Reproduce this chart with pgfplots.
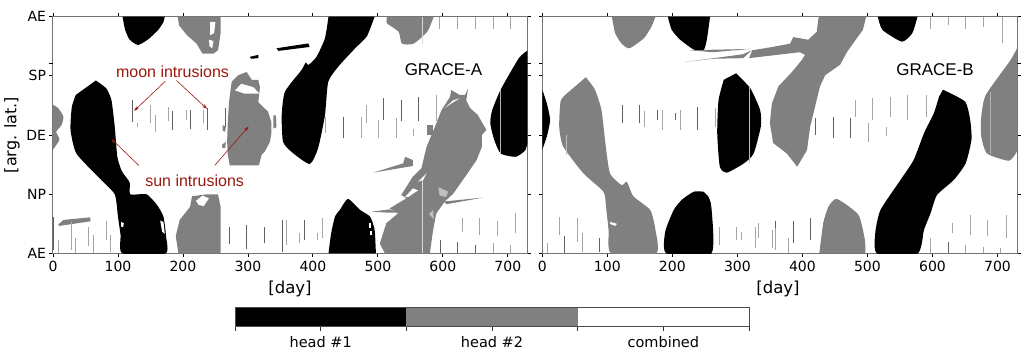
\documentclass[border=0pt]{standalone}
\usepackage{pgfplots}
\pgfplotsset{compat=1.18}
\usepackage{fontspec}
\setmainfont{DejaVu Sans}
\newfontfamily\arialf{Liberation Sans}
\usetikzlibrary{arrows.meta}
\definecolor{hd}{gray}{0.5}
\definecolor{ann}{rgb}{0.6,0.1,0.05}
\newcommand\poly[2]{\addplot[fill=#1,draw=none,forget plot] coordinates {#2} -- cycle;}
\newcommand\spoly[2]{\addplot[fill=#1,draw=none,forget plot,smooth,tension=0.35] coordinates {#2} -- cycle;}
\newcommand\dark[1]{\addplot[color=black!62,line width=0.75pt,forget plot,unbounded coords=jump] coordinates {#1};}
\newcommand\pale[1]{\addplot[color=black!35,line width=0.85pt,forget plot,unbounded coords=jump] coordinates {#1};}
\pgfplotsset{
  panel/.style={
    scale only axis, axis on top=false, height=236.8pt, anchor=south west,
    xmin=0,xmax=730,ymin=0,ymax=360,
    xtick={0,100,...,700}, ytick={0,90,180,270,360},
    extra y ticks={289}, extra y tick labels={},
    tick align=outside, major tick length=3.5pt,
    tick style={black,line width=0.8pt},
    xtick pos=both, ytick pos=both,
    xticklabel pos=bottom,
    axis line style={color=black!55,line width=1pt},
    tick label style={font=\fontsize{14}{16}\selectfont},
    /pgf/number format/assume math mode=true,
    /pgf/number format/1000 sep={},
    x tick label style={yshift=-1pt},
    clip=true,
  }
}
\begin{document}
\begin{tikzpicture}[x=1pt,y=1pt]
\path[use as bounding box] (0,0) rectangle (1021,358);
%% ---------------- GRACE-A
\begin{axis}[panel, at={(53pt,104.5pt)}, width=474.3pt,
  yticklabels={AE,NP,DE,SP,AE}]
\spoly{black}{(107,360)(111,340)(118,325)(131,317)(147,326)(162,340)(170,352)(172,360)}
\poly{hd}{(192,360)(194,347)(206,332)(221,319)(230,304)(247,304)(254,309)(258,335)(258,360)}
\poly{white}{(242,352)(250,352)(248,335)(242,332)}
\poly{white}{(240,325)(247,323)(245,312)(241,315)}
\spoly{black}{(66,263)(82,251)(90,233)(95,193)(99,147)(106,125)(118,108)(119,90)(144,90)(160,74)(170,56)(174,26)(173,0)(107,0)(104,28)(100,56)(95,90)(72,114)(36,152)(27,188)(29,223)(35,241)}
\poly{white}{(165,50)(170,48)(172,30)(168,33)}
\poly{white}{(105,48)(109,46)(108,40)(105,41)}
\poly{hd}{(189,26)(190,31)(195,51)(211,71)(214,87)(237,90)(254,90)(258,71)(258,0)(193,0)}
\poly{white}{(220,80)(230,88)(240,84)(232,72)(224,74)}
\poly{hd}{(298,276)(306,264)(316,264)(318.5,253)(316,230)(331,215.5)(336,200)(336,182)(334,170)(326,155)(321,150)(317,134)(272,134)(269,150)(268,170)(269,200)(271,231)(275,261)(285,271)}
\poly{white}{(280,248)(290,258)(308,253)(318,243)(295,243)}
\poly{hd}{(339,210)(343,210)(344,192)(339,190)}
\spoly{hd}{(0,226)(8,221)(16,208)(13,195)(5,185)(10,173)(0,158)}
\poly{hd}{(261,195)(266,193)(265,185)(261,187)}
\poly{hd}{(260,165)(266,170)(265,160)(261,160)}
\poly{hd}{(8,44)(16,51)(57,55)(58,49)(10,42)}
\poly{black}{(303,299)(316,302)(316,297)(305,296)}
\poly{black}{(344,312)(393,319.4)(395,314)(347,308)}
\spoly{black}{(424,360)(418.5,327)(405.6,299)(393,286.5)(389,290.5)(382.6,279)(357,246)(352,210)(354,170)(367,154.6)(395,136)(408,160)(418.5,210)(423.6,261)(439,284)(465,312)(483,330)(495,360)}
\spoly{black}{(424,0)(428,30)(434,56)(442,67)(454,83)(473,66)(488,56)(495,36)(497,0)}
\poly{white}{(486,46)(490,46)(490,38)(486,38)}
\poly{white}{(488,34)(491,34)(491,28)(488,28)}
\spoly{hd}{(514,360)(514,350)(532,337)(537,319)(555,319)(576,337)(586,360)}
\poly{hd}{(613,248.5)(626,241)(634,241)(639,251)(636,233)(642,221)(654,210.5)(660,200)(667,188)(660,180)(660,162)(652,142)(636,119)(616,91)(603,79)(590,61)(585,35.5)(580,0)(511,0)(503,15)(513,46)(531,61)(518,68.5)(544,84)(536,89)(554,117)(567,129.5)(575,162.3)(588,193)(598,218)(611,238)}
\poly{white}{(603,221)(616,233)(626,236)(613,228)}
\poly{white}{(562,109)(575,122)(570,112)}
\poly{white}{(542,86)(554,99)(562,96)(547,86)}
\poly{black!25}{(593,101)(608,94)(605,86)(595,88)}
\poly{black!25}{(579,60)(585,66)(586,52)}
\poly{hd}{(493,123)(539,137)(542,147)(554,142)(554,133)}
\poly{hd}{(601,79)(662,85)(606,75)}
\poly{hd}{(575,195)(585,195)(585,180)(575,180)}
\poly{hd}{(490,63.5)(518,67)(531,62)(518,62)}
\spoly{black}{(731,309)(717,297)(689,249)(676,218)(673,198)(679,173)(689,152)(712,147)(727,157)(731,173)}
\addplot[color=black!15,line width=0.7pt,forget plot] coordinates {(569,0)(569,112)};
\addplot[color=black!15,line width=0.7pt,forget plot] coordinates {(569,319)(569,360)};
\addplot[color=black!30,line width=0.7pt,forget plot] coordinates {(689,152)(689,249)};
\dark{(0,6)(0,56)(nan,nan)(184,188)(184,216)(nan,nan)(211,190)(211,218)(nan,nan)(238,188)(238,221)(nan,nan)(122,200)(122,233)(nan,nan)(266,193)(266,221)(nan,nan)(298,7)(298,44)(nan,nan)(271,15)(271,41)(nan,nan)(353,3)(353,51)(nan,nan)(326,16)(326,41)(nan,nan)(387,21)(387,51)(nan,nan)(447,175)(447,208)(nan,nan)(509,203)(509,236)(nan,nan)(536,201)(536,233)(nan,nan)(563,201)(563,238)(nan,nan)(623,0)(623,18)(nan,nan)(650,0)(650,13)(nan,nan)(596,0)(596,21)}
\pale{(8,0)(8,21)(nan,nan)(28,6)(28,49)(nan,nan)(35,0)(35,23)(nan,nan)(54,11)(54,41)(nan,nan)(62,0)(62,28)(nan,nan)(82,21)(82,49)(nan,nan)(89,3)(89,28)(nan,nan)(130,193)(130,198)(nan,nan)(150,198)(150,226)(nan,nan)(157,185)(157,211)(nan,nan)(177,201)(177,223)(nan,nan)(205,203)(205,218)(nan,nan)(232,198)(232,218)(nan,nan)(360,13)(360,51)(nan,nan)(380,16)(380,31)(nan,nan)(407,21)(407,31)(nan,nan)(414,23)(414,54)(nan,nan)(420,183)(420,208)(nan,nan)(475,175)(475,208)(nan,nan)(482,198)(482,226)(nan,nan)(501,175)(501,203)(nan,nan)(529,175)(529,206)(nan,nan)(555,178)(555,190)(nan,nan)(590,201)(590,241)(nan,nan)(595,342)(595,360)(nan,nan)(623,342)(623,360)(nan,nan)(650,342)(650,360)(nan,nan)(678,342)(678,360)(nan,nan)(704,342)(704,360)(nan,nan)(630,33)(630,54)(nan,nan)(657,28)(657,54)(nan,nan)(684,26)(684,49)(nan,nan)(712,31)(712,61)(nan,nan)(678,0)(678,16)(nan,nan)(704,0)(704,13)}
\node[font=\arialf\fontsize{17}{19}\selectfont,anchor=center] at (axis cs:601,279) {GRACE-A};
\node[font=\arialf\fontsize{16}{18}\selectfont,text=ann,anchor=center] at (axis cs:184,276) {moon intrusions};
\node[font=\arialf\fontsize{16}{18}\selectfont,text=ann,anchor=center] at (axis cs:218,111) {sun intrusions};
\draw[ann,line width=0.6pt,-{Stealth[length=5pt,width=3.5pt]}] (axis cs:173,262)--(axis cs:125,217);
\draw[ann,line width=0.6pt,-{Stealth[length=5pt,width=3.5pt]}] (axis cs:190,263)--(axis cs:237,220);
\draw[ann,line width=0.6pt,-{Stealth[length=5pt,width=3.5pt]}] (axis cs:132,134)--(axis cs:90,174);
\draw[ann,line width=0.6pt,-{Stealth[length=5pt,width=3.5pt]}] (axis cs:249,134)--(axis cs:301,193);
\end{axis}
%% ---------------- GRACE-B
\begin{axis}[panel, at={(542.3pt,104.5pt)}, width=474.7pt, yticklabels={}]
\spoly{hd}{(107,360)(112,335)(122,319)(134,312)(156,327)(168,345)(174,360)}
\spoly{black}{(193,360)(199,340)(212,325)(233,310)(248,309)(253,325)(258,360)}
\spoly{black}{(0,249)(7,228)(12,203)(7,178)(0,158)}
\spoly{hd}{(67,268)(81,249)(91,218)(97,168)(104,122)(122,104)(130,109)(140,87)(166,66)(174,36)(175,0)(106,0)(102,35)(98,71)(94,94)(63,122)(32,163)(26,193)(28,231)(35,241)}
\spoly{black}{(248,94)(233,94)(215,82)(202,66)(189,33)(191,0)(260,0)(260,71)(255,87)}
\spoly{black}{(298,274)(320,251)(335,218)(336,193)(325,152)(310,137)(284,123)(273,132)(269,183)(271,233)(279,264)}
\poly{hd}{(425,360)(422,337)(409,325)(386,329)(381,319)(348,313)(323,309)(318,297)(396,306)(404,302)(399,294)(384,276)(363,254)(353,228)(350,198)(355,168)(376,152)(392,132)(407,157)(412,193)(427,254)(435,271)(458,287)(469,307)(493,340)(498,360)}
\poly{hd}{(219,291)(309,303)(322,309)(309,297)(262,296)}
\poly{hd}{(227,309)(320,311)(262,306)}
\spoly{black}{(516,360)(523,340)(553,322)(569,335)(577,360)}
\spoly{black}{(616,249)(650,231)(658,203)(660,173)(651,137)(633,112)(607,89)(597,61)(587,36)(577,0)(515,0)(512,31)(520,66)(551,112)(571,142)(587,183)(602,213)(610,238)}
\spoly{hd}{(426,0)(432,46)(440,71)(453,83)(486,59)(496,21)(497,0)}
\spoly{hd}{(731,314)(720,294)(682,241)(675,208)(675,178)(684,152)(718,141)(731,157)}
\poly{white}{(105,48)(115,45)(112,42)(104,45)}
\addplot[color=black!25,line width=0.7pt,forget plot] coordinates {(319,137)(319,255)};
\addplot[color=black!30,line width=0.7pt,forget plot] coordinates {(689,152)(689,245)};
\addplot[color=black!25,line width=0.7pt,forget plot] coordinates {(37,150)(37,180)};
\dark{(123,198)(123,226)(nan,nan)(150,198)(150,226)(nan,nan)(177,203)(177,218)(nan,nan)(205,203)(205,213)(nan,nan)(239,188)(239,223)(nan,nan)(447,175)(447,208)(nan,nan)(474,175)(474,206)(nan,nan)(420,180)(420,206)(nan,nan)(34,0)(34,26)(nan,nan)(88,3)(88,23)(nan,nan)(386,16)(386,49)(nan,nan)(359,21)(359,49)(nan,nan)(413,21)(413,54)(nan,nan)(624,0)(624,18)}
\pale{(157,193)(157,216)(nan,nan)(184,188)(184,218)(nan,nan)(212,188)(212,218)(nan,nan)(266,193)(266,221)(nan,nan)(8,0)(8,16)(nan,nan)(27,28)(27,56)(nan,nan)(54,18)(54,54)(nan,nan)(61,3)(61,31)(nan,nan)(272,13)(272,41)(nan,nan)(299,21)(299,41)(nan,nan)(306,21)(306,33)(nan,nan)(327,8)(327,41)(nan,nan)(333,23)(333,46)(nan,nan)(354,8)(354,36)(nan,nan)(379,0)(379,23)(nan,nan)(358,6)(358,38)(nan,nan)(481,208)(481,233)(nan,nan)(501,170)(501,198)(nan,nan)(508,203)(508,236)(nan,nan)(529,178)(529,193)(nan,nan)(536,208)(536,238)(nan,nan)(562,203)(562,241)(nan,nan)(590,208)(590,241)(nan,nan)(597,342)(597,360)(nan,nan)(624,348)(624,360)(nan,nan)(651,342)(651,360)(nan,nan)(678,345)(678,360)(nan,nan)(707,320)(707,360)(nan,nan)(597,0)(597,23)(nan,nan)(630,31)(630,46)(nan,nan)(658,28)(658,59)(nan,nan)(684,26)(684,51)(nan,nan)(713,23)(713,59)(nan,nan)(651,0)(651,13)(nan,nan)(678,0)(678,10)(nan,nan)(704,0)(704,8)}
\node[font=\arialf\fontsize{17}{19}\selectfont,anchor=center] at (axis cs:604,279) {GRACE-B};
\end{axis}
%% ---------------- colour bar
\begin{axis}[scale only axis, at={(235pt,32pt)}, anchor=south west, width=514pt, height=19pt,
  xmin=0,xmax=3,ymin=0,ymax=1, ytick=\empty,
  xtick={0,0.5,1,1.5,2,2.5,3}, xticklabels={,head \#1,,head \#2,,combined,},
  tick align=outside, major tick length=5pt, xtick pos=bottom,
  tick style={black!80,line width=0.7pt},
  axis line style={color=black!70,line width=0.8pt},
  x tick label style={font=\fontsize{14.5}{16}\selectfont,yshift=-2pt},
  axis on top]
\addplot[fill=black,draw=none] coordinates {(0,0)(1,0)(1,1)(0,1)} -- cycle;
\addplot[fill=hd,draw=none] coordinates {(1,0)(2,0)(2,1)(1,1)} -- cycle;
\addplot[fill=white,draw=none] coordinates {(2,0)(3,0)(3,1)(2,1)} -- cycle;
\end{axis}
%% axis titles
\node[font=\fontsize{16.5}{18}\selectfont] at (290,69) {[day]};
\node[font=\fontsize{16.5}{18}\selectfont] at (778,69) {[day]};
\node[font=\fontsize{16}{18}\selectfont,rotate=90] at (12,223) {[arg. lat.]};
\end{tikzpicture}
\end{document}
